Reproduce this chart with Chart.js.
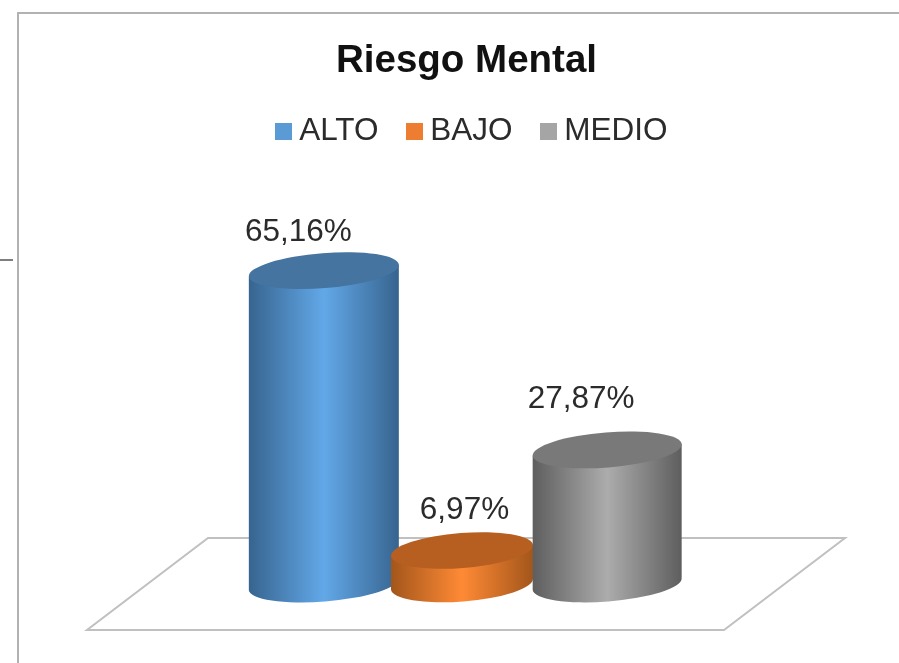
<!DOCTYPE html>
<html>
<head>
<meta charset="utf-8">
<style>
html,body{margin:0;padding:0;background:#fff}
#wrap{width:899px;height:663px}
canvas{display:block;filter:blur(.55px)}
</style>
<script src="https://cdn.jsdelivr.net/npm/chart.js@4/dist/chart.umd.min.js"></script>
</head>
<body>
<div id="wrap"><canvas id="c" width="899" height="663"></canvas></div>
<script>
const titleText = 'Riesgo Mental';
const categories = ['ALTO', 'BAJO', 'MEDIO'];
const values = [65.16, 6.97, 27.87];

const legendColors = ['#5b9bd5', '#ed7d31', '#a5a5a5'];
const edgeColors = ['#37648f', '#a3561b', '#5e5e5e'];
const midColors = ['#62a8e8', '#ff8a35', '#acacac'];
const capColors = ['#44749f', '#b65f20', '#797979'];
const barWidths = [150, 142, 149];
const barShift = [0, -3.5, 0];
const labelShift = [[-25.5, -38], [-1, -40.5], [-26, -50.5]];
const pxPerUnit = 4.81, capRadius = 17.5, tilt = 4.5 * Math.PI / 180;
const legendNudge = 9;
const fontFamily = '"Liberation Sans", Arial, sans-serif';

function swatch(color) {
  const s = document.createElement('canvas');
  s.width = 17; s.height = 17;
  const g = s.getContext('2d');
  g.fillStyle = color; g.fillRect(0, 0, 17, 17);
  return s;
}

const scene = {
  id: 'scene',
  beforeInit(chart) { chart.ctx.fontKerning = 'none'; },
  afterLayout(chart) {
    chart.legend.left += legendNudge;
    chart.legend.right += legendNudge;
  },
  beforeDraw(chart) {
    const { ctx, chartArea: a } = chart;
    const base = chart.scales.y.getPixelForValue(0);
    ctx.save();
    // chart frame and stray tick of the pasted picture
    ctx.strokeStyle = '#b2b2b2'; ctx.lineWidth = 2;
    ctx.beginPath(); ctx.moveTo(18, 663); ctx.lineTo(18, 13); ctx.lineTo(899, 13); ctx.stroke();
    ctx.strokeStyle = '#555'; ctx.lineWidth = 1.5;
    ctx.beginPath(); ctx.moveTo(0, 260); ctx.lineTo(13, 260); ctx.stroke();
    // floor
    ctx.strokeStyle = '#c0c0c0'; ctx.lineWidth = 2;
    ctx.beginPath();
    ctx.moveTo(a.left - 45, base - 46);
    ctx.lineTo(a.right + 167, base - 46);
    ctx.lineTo(a.right + 46, base + 46);
    ctx.lineTo(a.left - 166, base + 46);
    ctx.closePath(); ctx.stroke();
    ctx.restore();
  },
  beforeDatasetDraw(chart, args) {
    const { ctx } = chart;
    const bars = args.meta.data;
    bars.forEach((bar, i) => {
      const cx = bar.x + barShift[i], w = barWidths[i];
      const a = w / 2 / Math.cos(tilt), dy = w / 2 * Math.tan(tilt);
      const top = bar.y, bot = bar.base;
      const g = ctx.createLinearGradient(cx - w / 2, 0, cx + w / 2, 0);
      g.addColorStop(0, edgeColors[i]);
      g.addColorStop(0.5, midColors[i]);
      g.addColorStop(1, edgeColors[i]);
      ctx.save();
      ctx.fillStyle = g;
      ctx.beginPath();
      ctx.moveTo(cx - w / 2, top + dy);
      ctx.lineTo(cx - w / 2, bot + dy);
      ctx.ellipse(cx, bot, a, capRadius, -tilt, Math.PI, 0, true);
      ctx.lineTo(cx + w / 2, top - dy);
      ctx.closePath();
      ctx.fill();
      ctx.fillStyle = capColors[i];
      ctx.beginPath();
      ctx.ellipse(cx, top, a, capRadius, -tilt, 0, Math.PI * 2);
      ctx.fill();
      ctx.restore();
    });
    ctx.save();
    ctx.fillStyle = '#2b2b2b';
    ctx.font = '31.5px ' + fontFamily;
    ctx.textAlign = 'center';
    ctx.textBaseline = 'middle';
    bars.forEach((bar, i) => {
      const txt = values[i].toFixed(2).replace('.', ',') + '%';
      ctx.fillText(txt, bar.x + labelShift[i][0], bar.y + labelShift[i][1]);
    });
    ctx.restore();
    return false;
  }
};

new Chart(document.getElementById('c'), {
  type: 'bar',
  data: {
    labels: categories,
    datasets: [{ data: values, backgroundColor: legendColors, barPercentage: 1, categoryPercentage: 1 }]
  },
  plugins: [scene],
  options: {
    responsive: false,
    animation: false,
    layout: { padding: { left: 34, right: 0, top: 0, bottom: 79 } },
    scales: {
      x: { display: false },
      y: {
        position: 'left', min: 0, bounds: 'data',
        grid: { display: false }, border: { display: false }, ticks: { display: false },
        afterFit(s) { s.width = 219; },
        afterDataLimits(s) { s.max = (s.bottom - s.top) / pxPerUnit || 80; }
      },
      r: {
        type: 'linear', position: 'right',
        grid: { display: false }, border: { display: false }, ticks: { display: false },
        afterFit(s) { s.width = 221; }
      }
    },
    plugins: {
      tooltip: { enabled: false },
      title: {
        display: true, text: titleText, color: '#111',
        font: { family: fontFamily, size: 38.5, weight: 'bold', lineHeight: 1 },
        padding: { top: 42, bottom: -1 }
      },
      legend: {
        position: 'top',
        onClick: null,
        labels: {
          usePointStyle: true, pointStyleWidth: 0.01, padding: 36, color: '#2b2b2b',
          font: { family: fontFamily, size: 31.5 },
          generateLabels: () => categories.map((c, i) => ({
            text: c, fillStyle: legendColors[i], strokeStyle: legendColors[i], lineWidth: 0,
            pointStyle: swatch(legendColors[i]), fontColor: '#2b2b2b', index: i, hidden: false
          }))
        }
      }
    }
  }
});
</script>
</body>
</html>
